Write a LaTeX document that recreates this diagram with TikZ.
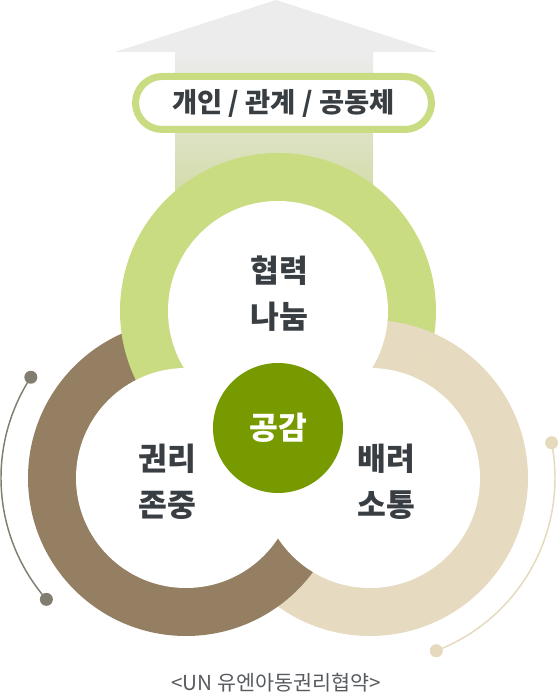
\documentclass[tikz,border=0pt]{standalone}
\usepackage{fontspec}
\setmainfont{Noto Sans CJK KR}
\definecolor{ringgreen}{HTML}{C9DC81}
\definecolor{ringbrown}{HTML}{957F63}
\definecolor{ringbeige}{HTML}{E6DBC0}
\definecolor{coregreen}{HTML}{779A00}
\definecolor{textdark}{HTML}{393E43}
\definecolor{arrowgray}{HTML}{ECECEC}
\definecolor{shaftgreen}{HTML}{D2DBA6}
\definecolor{arcgray}{HTML}{827D70}
\definecolor{arcbeige}{HTML}{E5D9BE}
\begin{document}
\begin{tikzpicture}[x=0.75pt,y=0.75pt,
    word/.style={text=textdark,font=\bfseries\fontsize{23.5}{34.5}\selectfont,align=center}]
                \useasboundingbox (0,0) rectangle (560,697);

                \coordinate (T) at (278,386);
                \coordinate (L) at (186,219);
                \coordinate (R) at (370,219);

                \fill[arrowgray] (115,645) -- (276,697) -- (437,645) -- cycle;
                \shade[top color=arrowgray,bottom color=shaftgreen] (175,645) rectangle (373,497);

                \fill[ringbeige] (R) circle (158);
                \fill[ringbrown] (L) circle (158);
                \fill[ringgreen] (T) circle (158);
                \begin{scope}
                    \clip (T) circle (158);
                    \fill[ringbeige] (R) circle (158);
                \end{scope}
                \foreach \c in {T,L,R}
                {
                    \fill[white] (\c) circle (110);
                }

                \fill[coregreen] (278,269) circle (65);

                \draw[arcgray,line width=1.1pt] ([shift={(147:185)}]L) arc[start angle=147,end angle=221,radius=185];
                \fill[arcgray] ([shift={(147:185)}]L) circle (6.5);
                \fill[arcgray] ([shift={(221:185)}]L) circle (6.5);

                \draw[arcbeige,line width=1.1pt] ([shift={(11:185)}]R) arc[start angle=11,end angle=-69,radius=185];
                \fill[arcbeige] ([shift={(11:185)}]R) circle (6.5);
                \fill[arcbeige] ([shift={(-69:185)}]R) circle (6.5);

                \node[draw=ringgreen,line width=5.25pt,fill=white,rounded corners=20pt,
                      minimum width=296*0.75pt,minimum height=53*0.75pt,inner sep=0pt,
                      text=textdark,font=\bfseries\fontsize{20.5}{24}\selectfont] (stage) at (283.5,594) {개인 / 관계 / 공동체};

                \node[word] (share) at (279,403) {협력\\나눔};
                \node[word] (right) at (167,215) {권리\\존중};
                \node[word] (care) at (386,215) {배려\\소통};
                \node[text=white,font=\bfseries\fontsize{23.5}{26}\selectfont] (empathy) at (278,269) {공감};

                \node[text=textdark!85,font=\fontsize{15.5}{18}\selectfont] (source) at (276,14) {<UN 유엔아동권리협약>};
            \end{tikzpicture}
\end{document}
